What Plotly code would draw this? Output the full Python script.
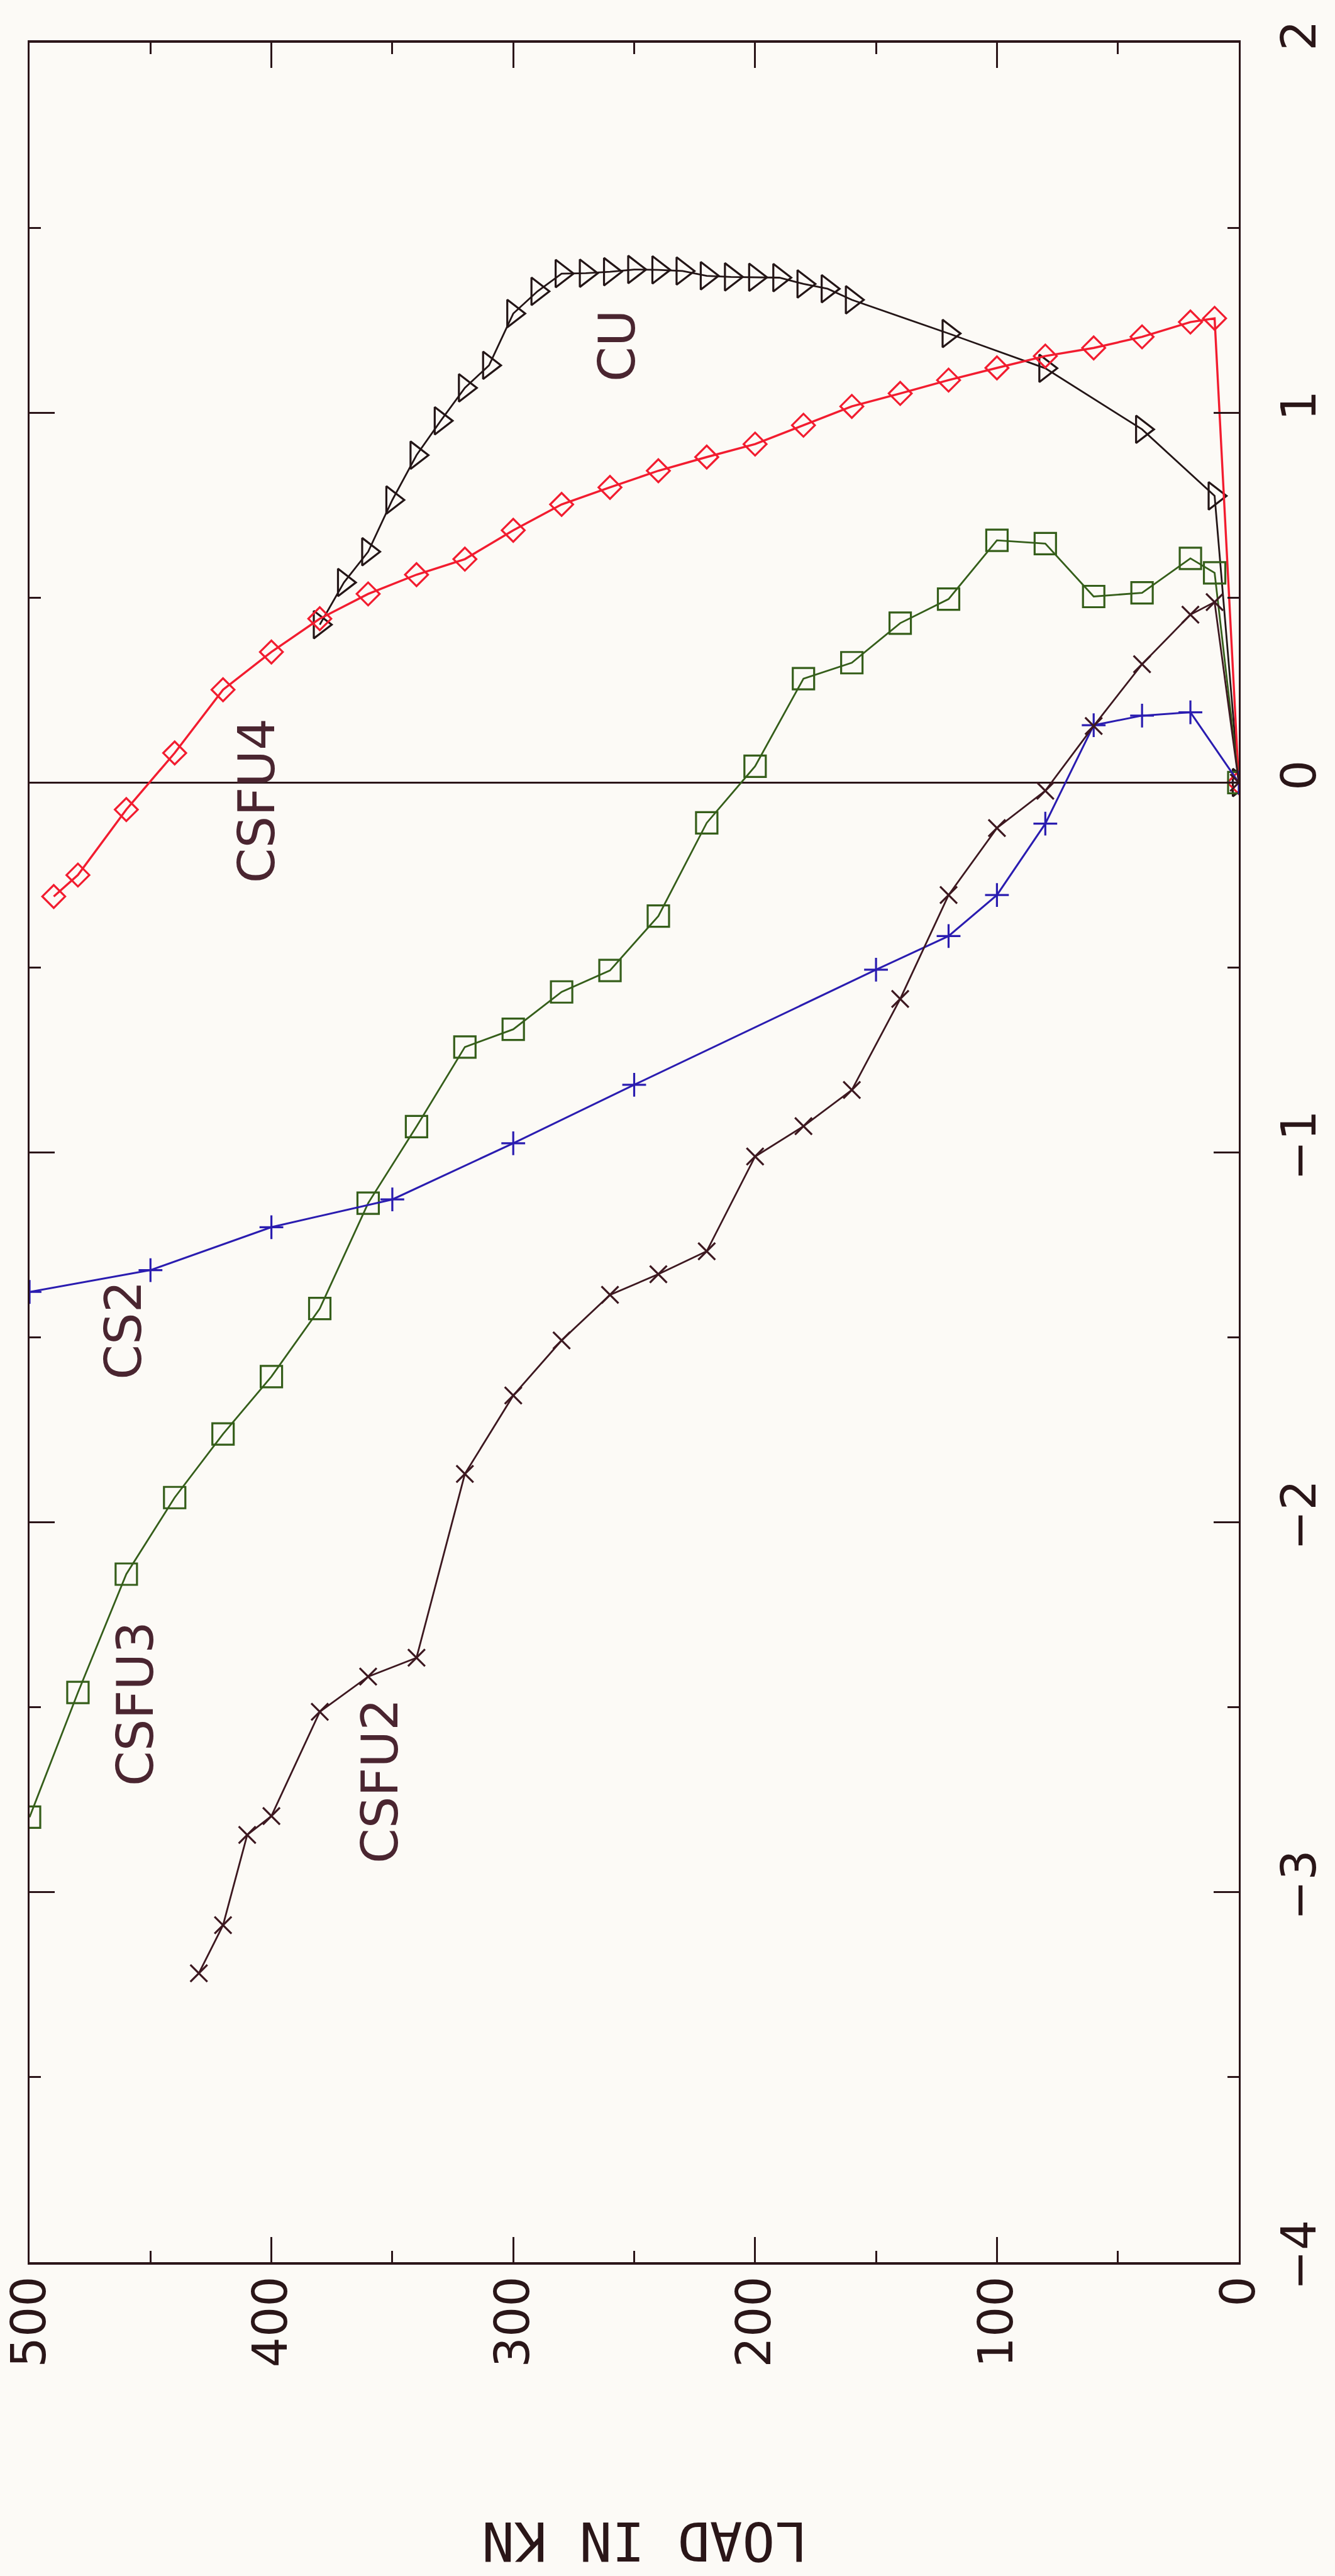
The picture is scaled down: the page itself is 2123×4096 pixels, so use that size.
import plotly.graph_objects as go

# Load (kN) against strain readings for each specimen
cu_load = [0, 10, 40, 80, 120, 160, 170, 180, 190, 200, 210, 220, 230, 240,
           250, 260, 270, 280, 290, 300, 310, 320, 330, 340, 350, 360, 370, 380]
cu_strain = [0, 0.775, 0.955, 1.12, 1.214, 1.305, 1.335, 1.348, 1.365, 1.366,
             1.367, 1.37, 1.383, 1.386, 1.387, 1.381, 1.377, 1.376, 1.328,
             1.268, 1.128, 1.067, 0.978, 0.885, 0.764, 0.624, 0.541, 0.427]

csfu4_load = [0, 10, 20, 40, 60, 80, 100, 120, 140, 160, 180, 200, 220, 240,
              260, 280, 300, 320, 340, 360, 380, 400, 420, 440, 460, 480, 490]
csfu4_strain = [0, 1.255, 1.245, 1.205, 1.175, 1.153, 1.121, 1.088, 1.052,
                1.017, 0.966, 0.915, 0.880, 0.843, 0.798, 0.752, 0.682, 0.604,
                0.562, 0.510, 0.443, 0.353, 0.251, 0.080, -0.073, -0.250, -0.308]

csfu3_load = [0, 10, 20, 40, 60, 80, 100, 120, 140, 160, 180, 200, 220, 240,
              260, 280, 300, 320, 340, 360, 380, 400, 420, 440, 460, 480, 500]
csfu3_strain = [0, 0.567, 0.606, 0.513, 0.503, 0.646, 0.655, 0.496, 0.431,
                0.324, 0.281, 0.044, -0.109, -0.361, -0.508, -0.566, -0.667,
                -0.715, -0.930, -1.137, -1.422, -1.606, -1.761, -1.933,
                -2.140, -2.460, -2.797]

cs2_load = [0, 20, 40, 60, 80, 100, 120, 150, 250, 300, 350, 400, 450, 500]
cs2_strain = [0, 0.19, 0.181, 0.155, -0.111, -0.304, -0.415, -0.506, -0.817,
              -0.975, -1.127, -1.202, -1.318, -1.377]

csfu2_load = [0, 10, 20, 40, 60, 80, 100, 120, 140, 160, 180, 200, 220, 240,
              260, 280, 300, 320, 340, 360, 380, 400, 410, 420, 430]
csfu2_strain = [0, 0.488, 0.454, 0.320, 0.153, -0.022, -0.123, -0.304, -0.585,
                -0.831, -0.929, -1.011, -1.267, -1.329, -1.385, -1.508, -1.657,
                -1.869, -2.366, -2.417, -2.512, -2.794, -2.845, -3.089, -3.219]

# Curve name tags: (text, load, strain)
tag_text = ["CU", "CSFU4", "CS2", "CSFU3", "CSFU2"]
tag_load = [257, 406, 461, 456, 355]
tag_strain = [1.18, -0.05, -1.48, -2.49, -2.70]

BG = "#fcfaf6"
AX = "#2b1519"
TXT = "#2a1618"
TAG = "#4a2530"

W, H = 2123, 4096
ML, MR, MT, MB = 47, 153, 68, 499

series = [
    (cu_load, cu_strain, "#231516", "triangle-right-open", 38, 2.8),
    (csfu4_load, csfu4_strain, "#f21c2f", "diamond-open", 28, 3.4),
    (csfu3_load, csfu3_strain, "#355e1a", "square-open", 34, 2.8),
    (cs2_load, cs2_strain, "#2a1cb0", "cross-thin", 27, 3.0),
    (csfu2_load, csfu2_strain, "#3d1820", "x-thin", 27, 2.8),
]

fig = go.Figure()
for xs, ys, col, sym, msize, lw in series:
    fig.add_trace(go.Scatter(
        x=xs, y=ys, mode="lines+markers",
        line=dict(color=col, width=lw),
        marker=dict(symbol=sym, size=msize, color=col,
                    line=dict(color=col, width=3.2)),
        hoverinfo="skip",
    ))

for t, lx, sy in zip(tag_text, tag_load, tag_strain):
    fig.add_annotation(x=lx, y=sy, xref="x", yref="y", text=t,
                       showarrow=False, textangle=-90,
                       xanchor="center", yanchor="middle",
                       font=dict(family="DejaVu Sans", size=80, color=TAG))

# Axis title, printed upside down beneath the load scale
fig.add_annotation(x=(1025 - ML) / (W - ML - MR),
                   y=(H - MB - 4041) / (H - MT - MB),
                   xref="paper", yref="paper", text="LOAD IN KN",
                   showarrow=False, textangle=180,
                   xanchor="center", yanchor="middle",
                   font=dict(family="DejaVu Sans Mono", size=86, color=TXT))

tick_font = dict(family="DejaVu Sans", size=76, color=TXT)

fig.update_xaxes(
    range=[500, 0], tick0=0, dtick=100, tickangle=-90, tickfont=tick_font,
    ticks="inside", ticklen=40, tickwidth=2.5, tickcolor=AX,
    showline=True, linecolor=AX, linewidth=4, mirror="ticks",
    showgrid=False, zeroline=False, ticklabelstandoff=-12,
    automargin=False,
    minor=dict(dtick=50, ticks="inside", ticklen=18, tickwidth=2.5,
               tickcolor=AX, showgrid=False),
)
fig.update_yaxes(
    range=[-4, 2], tick0=0, dtick=1, side="right", tickangle=-90,
    tickfont=tick_font,
    ticks="inside", ticklen=40, tickwidth=2.5, tickcolor=AX,
    showline=True, linecolor=AX, linewidth=2.6, mirror="ticks",
    showgrid=False, zeroline=True, zerolinecolor=AX, zerolinewidth=3.2,
    ticklabelstandoff=28, automargin=False,
    minor=dict(dtick=0.5, ticks="inside", ticklen=18, tickwidth=2.5,
               tickcolor=AX, showgrid=False),
)

fig.update_layout(
    width=W, height=H,
    margin=dict(l=ML, r=MR, t=MT, b=MB, pad=0, autoexpand=False),
    paper_bgcolor=BG, plot_bgcolor=BG, showlegend=False,
)

fig.write_html("out.html")
